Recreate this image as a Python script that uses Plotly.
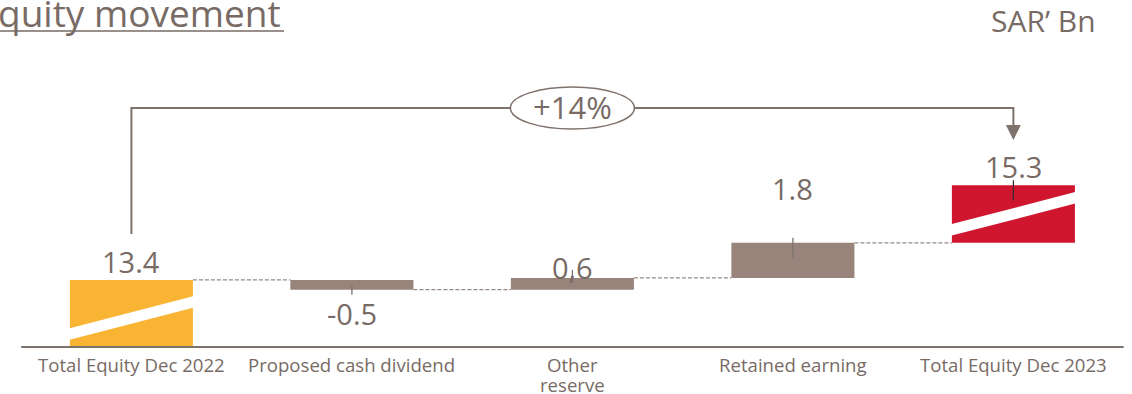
import plotly.graph_objects as go

# ---- data -------------------------------------------------------------
categories = ["Total Equity Dec 2022", "Proposed cash dividend", "Other<br>reserve",
              "Retained earning", "Total Equity Dec 2023"]
opening_total = 13.4
movements = [-0.5, 0.6, 1.8]
closing_total = 15.3
value_labels = ["13.4", "-0.5", "0,6", "1.8", "15.3"]
growth_label = "+14%"
unit_label = "SAR’ Bn"
title_text = "quity movement"

# ---- styling ----------------------------------------------------------
YELLOW = "#F8B432"
TAUPE = "#98847B"
RED = "#D0152E"
TEXT = "#786B65"
LINE = "#7E726C"
DASH = "#988A84"
FONT = "Open Sans"

W, H = 1132, 394
PX_PER_UNIT = 19.5          # vertical scale of the plot, px per SAR bn
Y_FLOOR = 9.96              # value sitting on the baseline (broken axis)
X_STEP = 220.5              # px between category centres
X_FIRST = 131.4             # px position of the first category
BAR_W = 0.558
BREAK_STUB = 2.95           # display height of the broken closing bar


def dy(px):
    return px / PX_PER_UNIT


def dx(px):
    return px / X_STEP


# ---- waterfall geometry ----------------------------------------------
levels = [opening_total]
for m in movements:
    levels.append(round(levels[-1] + m, 2))

bases = [Y_FLOOR]
heights = [opening_total - Y_FLOOR]
for i, m in enumerate(movements):
    start = levels[i]
    bases.append(min(start, start + m))
    heights.append(abs(m))
bases.append(closing_total)
heights.append(BREAK_STUB)
colors = [YELLOW, TAUPE, TAUPE, TAUPE, RED]
xs = list(range(len(categories)))
tops = [b + h for b, h in zip(bases, heights)]

fig = go.Figure(go.Bar(
    x=xs, y=heights, base=bases, width=BAR_W,
    marker=dict(color=colors, line=dict(width=0)),
    hoverinfo="skip",
))

shapes = []
annotations = []

# baseline
shapes.append(dict(type="line", xref="x", yref="y", x0=-0.5, x1=4.5, y0=Y_FLOOR, y1=Y_FLOOR,
                   line=dict(color=LINE, width=2)))

# dashed step connectors between consecutive bars
for i in range(len(levels)):
    shapes.append(dict(type="line", xref="x", yref="y",
                       x0=i + BAR_W / 2, x1=i + 1 - BAR_W / 2,
                       y0=levels[i], y1=levels[i],
                       line=dict(color=DASH, width=1.2, dash="4px,2px")))

# white break stripes across the total bars
for i in (0, len(xs) - 1):
    xl, xr, yb = i - BAR_W / 2 - 0.005, i + BAR_W / 2 + 0.005, bases[i]
    path = (f"M {xl},{yb + dy(7)} L {xr},{yb + dy(39.5)} "
            f"L {xr},{yb + dy(51)} L {xl},{yb + dy(18.5)} Z")
    shapes.append(dict(type="path", xref="x", yref="y", path=path,
                       fillcolor="white", line=dict(width=0)))

# small centre marks on the movement and closing bars
marks = [(1, bases[1], 4, -5, LINE), (2, tops[2], 8, -5, LINE),
         (3, tops[3], 5, -16, LINE), (4, tops[4], 5, -15, "#3B2B2B")]
for i, ref, up, down, c in marks:
    shapes.append(dict(type="line", xref="x", yref="y", x0=i, x1=i,
                       y0=ref + dy(down), y1=ref + dy(up),
                       line=dict(color=c, width=1.3)))

# growth bracket from opening to closing total
bracket_y = Y_FLOOR + dy(239)
shapes.append(dict(type="path", xref="x", yref="y",
                   path=(f"M 0,{tops[0] + dy(46)} L 0,{bracket_y} "
                         f"L 4,{bracket_y} L 4,{bracket_y - dy(18)}"),
                   line=dict(color=LINE, width=2)))
shapes.append(dict(type="path", xref="x", yref="y",
                   path=(f"M {4 - dx(7.5)},{bracket_y - dy(17)} L {4 + dx(7.5)},{bracket_y - dy(17)} "
                         f"L 4,{bracket_y - dy(32)} Z"),
                   fillcolor=LINE, line=dict(width=0)))
shapes.append(dict(type="circle", xref="x", yref="y",
                   x0=2 - dx(62), x1=2 + dx(62),
                   y0=bracket_y - dy(21), y1=bracket_y + dy(21),
                   fillcolor="white", line=dict(color=LINE, width=1.5)))
annotations.append(dict(x=2, y=bracket_y, xref="x", yref="y", text=growth_label,
                        showarrow=False, xanchor="center", yanchor="middle", yshift=1,
                        font=dict(family=FONT, size=31, color=TEXT)))

# value labels
label_anchor = [tops[0], bases[1], tops[2], tops[3], tops[4]]
label_shift = [18, -24, 10, 54, 19]
for i, (txt, yv, sh) in enumerate(zip(value_labels, label_anchor, label_shift)):
    annotations.append(dict(x=i, y=yv, xref="x", yref="y", text=txt, showarrow=False,
                            xanchor="center", yanchor="middle", yshift=sh,
                            font=dict(family=FONT, size=29, color=TEXT)))

# category labels under the baseline, one annotation per line
for i, cat in enumerate(categories):
    for j, line in enumerate(cat.split("<br>")):
        annotations.append(dict(x=i, y=Y_FLOOR, xref="x", yref="y", text=line, showarrow=False,
                                xanchor="center", yanchor="middle", yshift=-17 - 20 * j,
                                borderpad=0,
                                font=dict(family=FONT, size=18.6, color=TEXT)))

# title and unit
annotations.append(dict(x=0, y=1, xref="paper", yref="paper", text=title_text,
                        showarrow=False, xanchor="left", yanchor="top", yshift=14,
                        xshift=-3, borderpad=0,
                        font=dict(family=FONT, size=37, color=TEXT)))
shapes.append(dict(type="line", xref="paper", yref="paper", x0=0, x1=284 / W,
                   y0=1 - 31 / H, y1=1 - 31 / H, line=dict(color=TEXT, width=1.3)))
annotations.append(dict(x=1043 / W, y=1 - 21 / H, xref="paper", yref="paper", text=unit_label,
                        showarrow=False, xanchor="center", yanchor="middle",
                        font=dict(family=FONT, size=30, color=TEXT)))

fig.update_layout(
    width=W, height=H,
    margin=dict(l=0, r=0, t=0, b=0),
    paper_bgcolor="white", plot_bgcolor="white",
    showlegend=False,
    xaxis=dict(range=[-X_FIRST / X_STEP, (W - X_FIRST) / X_STEP], visible=False, fixedrange=True),
    yaxis=dict(range=[Y_FLOOR - dy(H - 347), Y_FLOOR + dy(347)], visible=False, fixedrange=True),
    shapes=shapes,
    annotations=annotations,
)

fig.write_html("out.html", config={"displayModeBar": False})
